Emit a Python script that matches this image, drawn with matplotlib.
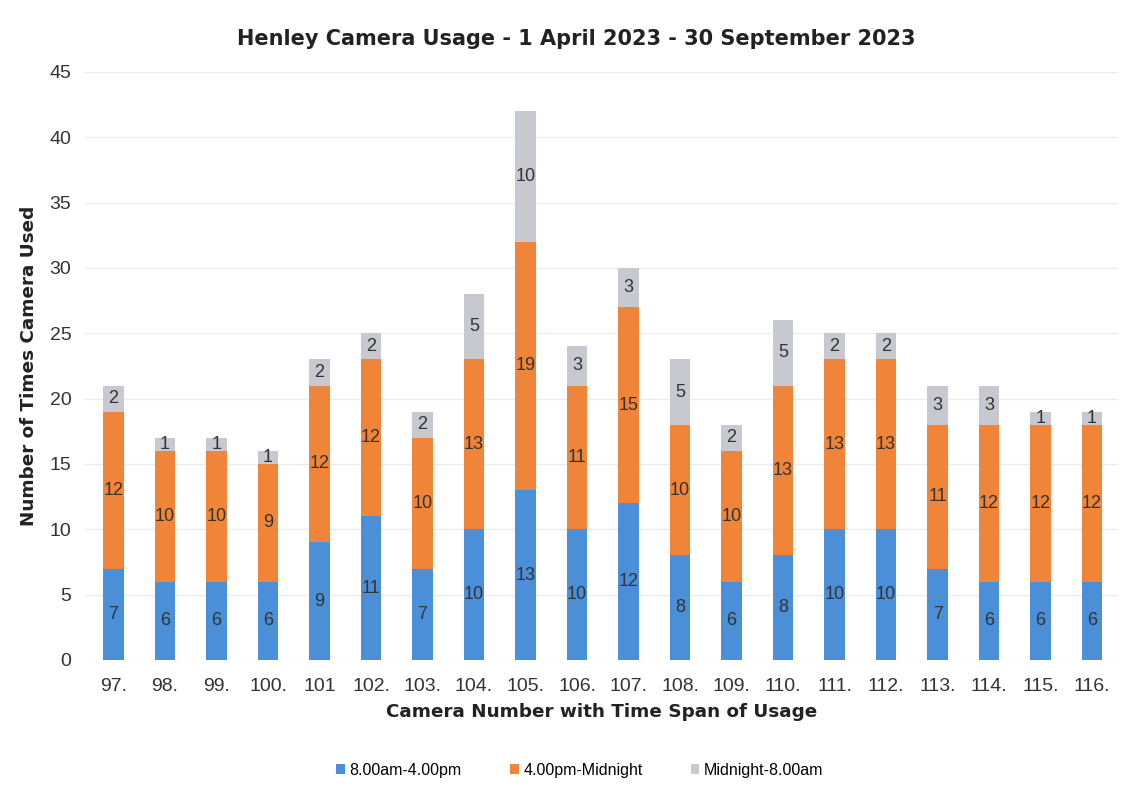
import numpy as np
import matplotlib
matplotlib.use('Agg')
import matplotlib.pyplot as plt

plt.rcParams['font.family'] = ['Liberation Sans', 'DejaVu Sans']

cameras = ['97.', '98.', '99.', '100.', '101', '102.', '103.', '104.', '105.', '106.',
           '107.', '108.', '109.', '110.', '111.', '112.', '113.', '114.', '115.', '116.']
day = [7, 6, 6, 6, 9, 11, 7, 10, 13, 10, 12, 8, 6, 8, 10, 10, 7, 6, 6, 6]
evening = [12, 10, 10, 9, 12, 12, 10, 13, 19, 11, 15, 10, 10, 13, 13, 13, 11, 12, 12, 12]
night = [2, 1, 1, 1, 2, 2, 2, 5, 10, 3, 3, 5, 2, 5, 2, 2, 3, 3, 1, 1]

series = [('8.00am-4.00pm', day, '#4a8fd8'),
          ('4.00pm-Midnight', evening, '#f0853a'),
          ('Midnight-8.00am', night, '#c8c8d0')]

fig = plt.figure(figsize=(11.36, 7.89), dpi=100)
ax = fig.add_axes([0.075, 0.1635, 0.909, 0.7455])

x = np.arange(len(cameras))
bottom = np.zeros(len(cameras))
for name, vals, col in series:
    vals = np.array(vals)
    bars = ax.bar(x, vals, 0.4, bottom=bottom, color=col, label=name, zorder=2)
    ax.bar_label(bars, labels=[str(v) for v in vals], label_type='center',
                 fontsize=13, color='#333333')
    bottom += vals

ax.set_xlim(-0.55, 19.5)
ax.set_ylim(0, 45)
ax.set_yticks(range(0, 46, 5))
ax.set_xticks(x)
ax.set_xticklabels(cameras)
ax.tick_params(axis='both', length=0, labelsize=14, colors='#333333')
ax.tick_params(axis='x', pad=13)
ax.tick_params(axis='y', pad=10)
ax.grid(axis='y', color='#ececec', linewidth=1, zorder=0)
for s in ax.spines.values():
    s.set_visible(False)

# wider bold face for the headings
heading = ['DejaVu Sans']
ax.set_title('Henley Camera Usage - 1 April 2023 - 30 September 2023',
             fontsize=15, fontweight='bold', family=heading, color='#222222',
             pad=19, x=0.476)
ax.set_xlabel('Camera Number with Time Span of Usage', fontsize=13.2,
              fontweight='bold', family=heading, color='#222222', labelpad=6)
ax.set_ylabel('Number of Times Camera Used', fontsize=13.2,
              fontweight='bold', family=heading, color='#222222', labelpad=8)

ax.legend(loc='upper center', bbox_to_anchor=(0.479, -0.15), ncol=3, frameon=False,
          fontsize=11.5, handlelength=0.55, handleheight=0.55, handletextpad=0.3,
          columnspacing=3.0)

fig.savefig('out.png', dpi=100, facecolor='white')
